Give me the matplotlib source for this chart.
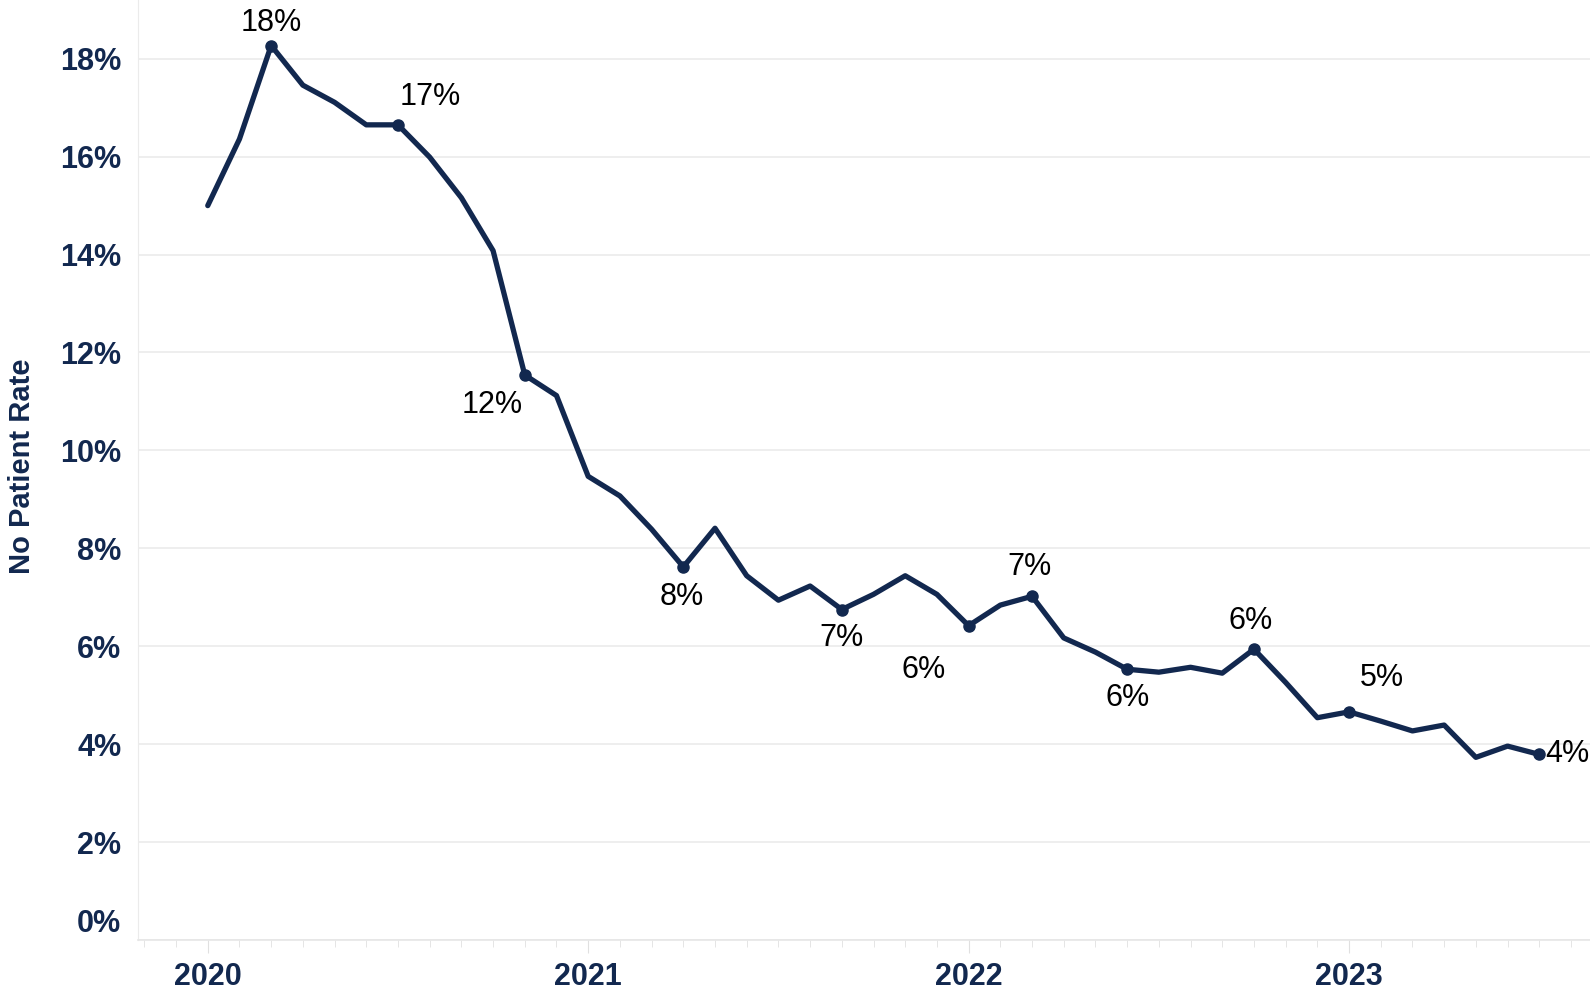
import matplotlib.pyplot as plt
import matplotlib.transforms as mtransforms

plt.rcParams['font.family'] = ['Liberation Sans', 'DejaVu Sans']

navy = '#12284f'

years = ['2020', '2021', '2022', '2023']
# monthly no patient rate (%), Jan 2020 .. Jul 2023
rate = [15.00, 16.36, 18.27, 17.46, 17.11, 16.65, 16.65, 15.99, 15.16, 14.08, 11.54, 11.12,
        9.47, 9.07, 8.39, 7.62, 8.41, 7.44, 6.94, 7.23, 6.75, 7.06, 7.44, 7.06,
        6.42, 6.84, 7.02, 6.17, 5.88, 5.53, 5.47, 5.57, 5.45, 5.94, 5.26, 4.54,
        4.66, 4.47, 4.27, 4.39, 3.73, 3.96, 3.79]
# labelled months (index into rate)
marked = [2, 6, 10, 15, 20, 24, 26, 29, 33, 36, 42]
# where each label sits relative to its point (pixels)
label_off = [(0, 23), (32, 28), (-33, -30), (-2, -30), (0, -28), (-45, -44),
             (-3, 29), (0, -29), (-3, 28), (33, 34), (6, 0)]

months = list(range(len(rate)))

fig = plt.figure(figsize=(15.9, 9.93), dpi=100)
ax = fig.add_axes([0.0868, 0.0534, 0.9132, 0.9466])

ax.plot(months, rate, color=navy, lw=3.8, solid_joinstyle='round', solid_capstyle='round')
ax.plot([months[i] for i in marked], [rate[i] for i in marked], 'o', color=navy, ms=8)

for i, (dx, dy) in zip(marked, label_off):
    ha = 'left' if i == marked[-1] else 'center'
    ax.annotate('%d%%' % round(rate[i]), (months[i], rate[i]), xytext=(dx, dy),
                textcoords='offset pixels', ha=ha, va='center', fontsize=22, color='black')

ax.set_xlim(-2.2, 43.6)
ax.set_ylim(0, 19.2)
ax.set_yticks(range(0, 19, 2))
ax.set_yticklabels(['%d%%' % v for v in range(0, 19, 2)])
ax.set_xticks([0, 12, 24, 36])
ax.set_xticklabels(years)
ax.set_xticks(range(-2, 44), minor=True)

ax.grid(axis='y', color='#ebebeb', lw=1.2)
ax.set_axisbelow(True)
for s in ['top', 'right']:
    ax.spines[s].set_visible(False)
ax.spines['left'].set_color('#ebebeb')
ax.spines['bottom'].set_color('#e6e6e6')
ax.spines['bottom'].set_linewidth(1.2)

ax.tick_params(axis='y', length=0, pad=12, labelsize=22, labelcolor=navy)
ax.tick_params(axis='x', which='major', length=9, color='#e0e0e0', pad=7, labelsize=22, labelcolor=navy)
ax.tick_params(axis='x', which='minor', length=5, color='#e0e0e0')
for t in ax.get_xticklabels() + ax.get_yticklabels():
    t.set_fontweight('bold')

# the 0% label sits a little higher than its gridline
zero = ax.get_yticklabels()[0]
zero.set_transform(zero.get_transform() + mtransforms.ScaledTranslation(0, 0.19, fig.dpi_scale_trans))

ax.set_ylabel('No Patient Rate', fontsize=21, fontweight='bold', color=navy)
ax.yaxis.set_label_coords(-0.070, 0.504)

fig.savefig('out.png')
